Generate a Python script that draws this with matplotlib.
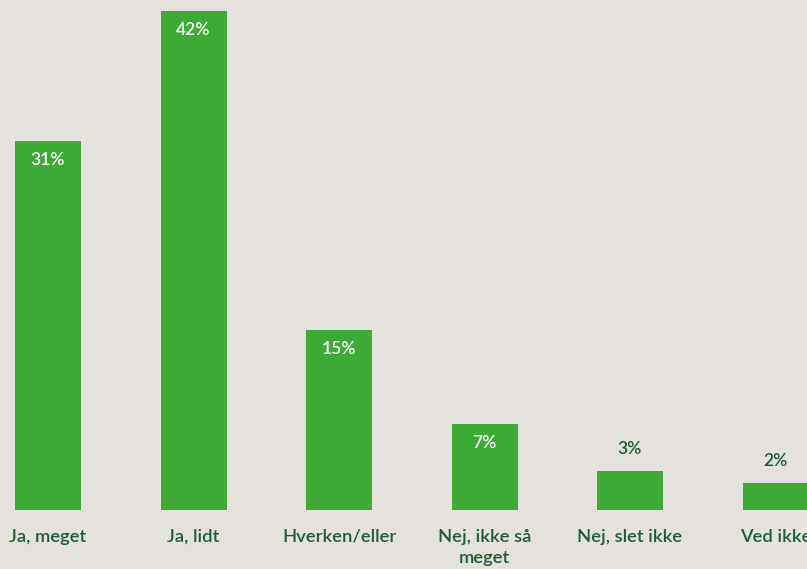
import matplotlib
matplotlib.use("Agg")
import matplotlib.pyplot as plt

categories = ["Ja, meget", "Ja, lidt", "Hverken/eller", "Nej, ikke så\nmeget", "Nej, slet ikke", "Ved ikke"]
values = [31, 42, 15, 7, 3, 2]

bg = "#e5e2de"
bar_color = "#3caa35"
text_green = "#1c5e30"

plt.rcParams["font.family"] = ["Lato", "DejaVu Sans"]

W, H = 807, 569
fig = plt.figure(figsize=(W / 100, H / 100), dpi=100, facecolor=bg)
base_px = 510
ax = fig.add_axes([0, 1 - base_px / H, 1, base_px / H])
ax.set_facecolor(bg)

step = 145.5
first = 48
ymin, ymax = -0.29, 42.93
ax.set_xlim(-first / step, (W - first) / step)
ax.set_ylim(ymin, ymax)

x = list(range(len(categories)))
ax.bar(x, [v - ymin for v in values], bottom=ymin, width=66 / step,
       color=bar_color, zorder=2)

for xi, v in zip(x, values):
    if v >= 5:
        ax.annotate(f"{v}%", (xi, v), xytext=(0, -19), textcoords="offset pixels",
                    ha="center", va="center", color="white", fontsize=12.5,
                    fontweight="semibold")
    else:
        ax.annotate(f"{v}%", (xi, v), xytext=(0, 22), textcoords="offset pixels",
                    ha="center", va="center", color=text_green, fontsize=12.5,
                    fontweight="semibold")

for xi, lab in zip(x, categories):
    ax.annotate(lab, (xi, ymin), xytext=(0, -19), textcoords="offset pixels",
                ha="center", va="top", color=text_green, fontsize=13.2,
                fontweight="semibold", linespacing=1.4, annotation_clip=False)

for s in ax.spines.values():
    s.set_visible(False)
ax.set_xticks([])
ax.set_yticks([])

fig.savefig("out.png", dpi=100, facecolor=bg)
